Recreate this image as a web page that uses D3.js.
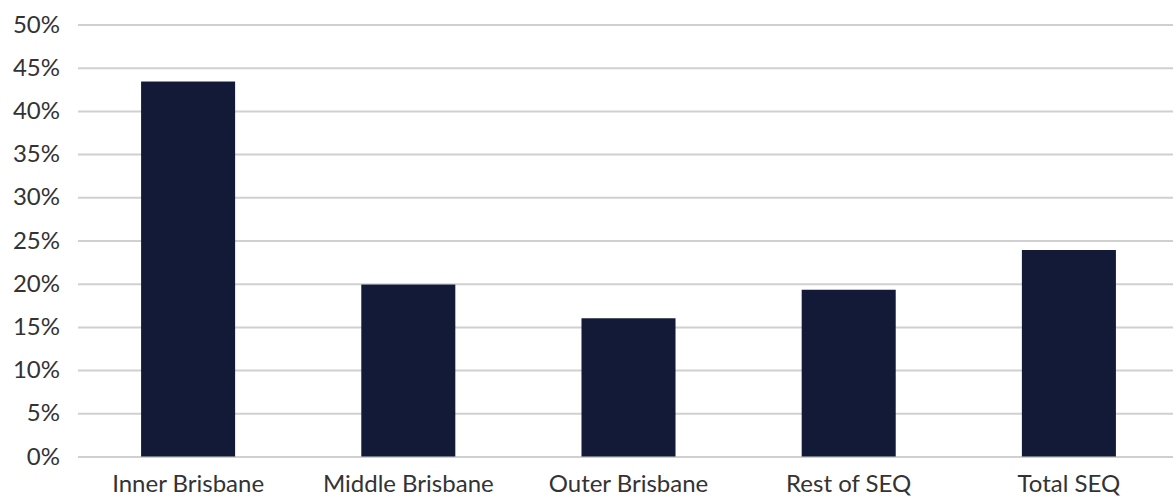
<!DOCTYPE html>
<html>
<head>
<meta charset="utf-8">
<script src="https://cdn.jsdelivr.net/npm/d3@7"></script>
<style>
    body { margin: 0; background: #fff; }
    svg { display: block; }
    .axis text { font-family: Lato, sans-serif; font-size: 24px; fill: #333; }
</style>
</head>
<body>
<svg id="chart" width="1173" height="498"></svg>
<script>
const categories = ["Inner Brisbane", "Middle Brisbane", "Outer Brisbane", "Rest of SEQ", "Total SEQ"];
const values = [0.434, 0.199, 0.160, 0.193, 0.239];
const yTicks = [0, 0.05, 0.10, 0.15, 0.20, 0.25, 0.30, 0.35, 0.40, 0.45, 0.50];

const width = 1173, height = 498;
const padding = {top: 24.5, right: -6, bottom: 41.5, left: 78};
const innerWidth = width - padding.left - padding.right;
const innerHeight = height - padding.top - padding.bottom;

const svg = d3.select("#chart");
const g = svg.append("g")
    .attr("transform", `translate(${padding.left}, ${padding.top})`);

const x = d3.scaleBand()
    .domain(categories)
    .range([0, innerWidth])
    .paddingInner(0.573)
    .paddingOuter(0.2865);

const y = d3.scaleLinear()
    .domain([0, 0.5])
    .range([innerHeight, 0]);

// gridlines + y labels
const yaxis = g.append("g").attr("class", "axis axis-y")
    .call(d3.axisLeft(y).tickValues(yTicks).tickFormat(d3.format(".0%")).tickSize(0).tickPadding(18));
yaxis.select(".domain").remove();
yaxis.selectAll("line")
    .attr("x2", width - padding.left)
    .attr("stroke", "#d0d0d0")
    .attr("stroke-width", 2);

// bars
g.selectAll(".bar")
    .data(values)
    .enter()
    .append("rect")
    .attr("class", "bar")
    .attr("x", (d, i) => x(categories[i]))
    .attr("y", d => y(d))
    .attr("width", x.bandwidth())
    .attr("height", d => innerHeight - y(d))
    .attr("fill", "#131a38");

// x labels
const xaxis = g.append("g").attr("class", "axis axis-x")
    .attr("transform", `translate(0, ${innerHeight})`)
    .call(d3.axisBottom(x).tickSize(0).tickPadding(18));
xaxis.select(".domain").remove();
</script>
</body>
</html>
